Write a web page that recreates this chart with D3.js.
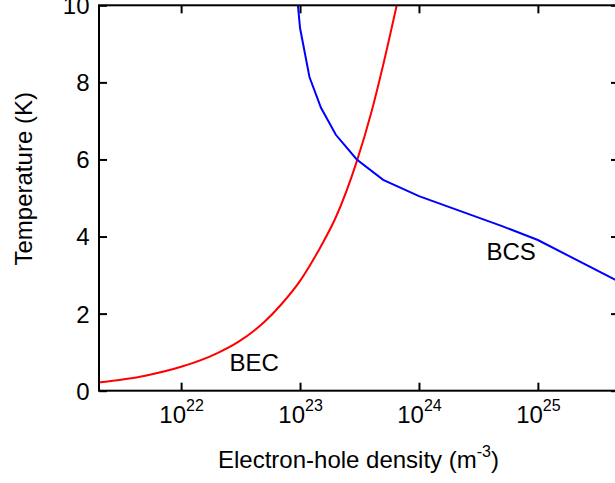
<!DOCTYPE html>
<html>
<head>
<meta charset="utf-8">
<script src="https://cdn.jsdelivr.net/npm/d3@7"></script>
<style>
  html, body { margin: 0; padding: 0; background: #fff; }
  svg { display: block; }
  text { font-family: "Liberation Sans", Arial, sans-serif; fill: #000; }
</style>
</head>
<body>
<svg id="chart" width="615" height="483"></svg>
<script>
// ---- data ----
const becDensity = [2e21, 5e21, 1e22, 2e22, 3e22, 5e22, 7e22, 1e23, 1.22e23, 1.5e23, 2e23, 3e23, 4e23, 5e23, 6.5e23];
const becTemp    = [0.21, 0.39, 0.62, 0.97, 1.26, 1.78, 2.25, 2.85, 3.27, 3.75, 4.5, 5.95, 7.25, 8.45, 10.0];

const bcsDensity = [9.6e22, 1e23, 1.2e23, 1.5e23, 2e23, 3e23, 5e23, 1e24, 5e24, 1e25, 5e25];
const bcsTemp    = [10.0, 9.41, 8.14, 7.34, 6.64, 6.0, 5.47, 5.05, 4.27, 3.91, 2.8];

const xTickExponents = [22, 23, 24, 25];
const yTickValues = [0, 2, 4, 6, 8, 10];
const xDomain = [2e21, 5e25];
const yDomain = [0, 10];

const curveLabels = [
  {text: "BEC", n: 2.55e22, t: 0.52},
  {text: "BCS", n: 3.7e24, t: 3.39}
];

// ---- layout ----
const pLeft = 98, pRight = 621, pTop = 5.3, pBottom = 390.7;
const svg = d3.select("#chart");

const x = d3.scaleLog().domain(xDomain).range([pLeft, pRight]);
const y = d3.scaleLinear().domain(yDomain).range([pBottom, pTop]);

const FS = 24, SUP = 16;

svg.append("defs").append("clipPath").attr("id", "clip")
  .append("rect").attr("x", pLeft).attr("y", pTop).attr("width", pRight - pLeft).attr("height", pBottom - pTop);

// curves
const becData = becDensity.map((n, i) => [n, becTemp[i]]);
const bcsData = bcsDensity.map((n, i) => [n, bcsTemp[i]]);

const g = svg.append("g").attr("clip-path", "url(#clip)");
g.append("path").datum(becData)
  .attr("d", d3.line().x(d => x(d[0])).y(d => y(d[1])).curve(d3.curveMonotoneX))
  .attr("fill", "none").attr("stroke", "#ff0000").attr("stroke-width", 2);
g.append("path").datum(bcsData)
  .attr("d", d3.line().x(d => x(d[0])).y(d => y(d[1])).curve(d3.curveLinear))
  .attr("fill", "none").attr("stroke", "#0000ff").attr("stroke-width", 2);

// axes
const xTicks = xTickExponents.map(e => Math.pow(10, e));
function styleAxis(sel) {
  sel.select(".domain").remove();
  sel.selectAll(".tick line").attr("stroke", "#000").attr("stroke-width", 2);
}
const xb = svg.append("g").attr("transform", `translate(0,${pBottom})`)
  .call(d3.axisBottom(x).tickValues(xTicks).tickSizeInner(-8).tickSizeOuter(0).tickFormat(""));
styleAxis(xb);
xb.selectAll(".tick text").remove();
xb.selectAll(".tick").each(function(d) {
  const e = Math.round(Math.log10(d));
  const t = d3.select(this).append("text")
    .attr("y", 32.5).attr("text-anchor", "middle")
    .style("font-size", FS + "px");
  t.append("tspan").text("10");
  t.append("tspan").attr("dy", -12).style("font-size", SUP + "px").text(e);
});

const xt = svg.append("g").attr("transform", `translate(0,${pTop})`)
  .call(d3.axisTop(x).tickValues(xTicks).tickSizeInner(-8).tickSizeOuter(0).tickFormat(""));
styleAxis(xt);

const yl = svg.append("g").attr("transform", `translate(${pLeft + 1},0)`)
  .call(d3.axisLeft(y).tickValues(yTickValues).tickSizeInner(-8).tickSizeOuter(0).tickPadding(9.5).tickFormat(d3.format("d")));
styleAxis(yl);
yl.selectAll(".tick text").style("font-size", FS + "px").attr("dy", "0.35em");

const yr = svg.append("g").attr("transform", `translate(${pRight - 2},0)`)
  .call(d3.axisRight(y).tickValues(yTickValues).tickSizeInner(-8).tickSizeOuter(0).tickFormat(""));
styleAxis(yr);

// frame
svg.append("rect").attr("x", pLeft + 1).attr("y", pTop).attr("width", pRight - 2 - (pLeft + 1)).attr("height", pBottom - pTop)
  .attr("fill", "none").attr("stroke", "#000").attr("stroke-width", 2);

// curve labels
curveLabels.forEach(l => {
  svg.append("text").attr("x", x(l.n)).attr("y", y(l.t))
    .style("font-size", FS + "px").text(l.text);
});

// axis titles
const xl = svg.append("text").attr("x", 218).attr("y", 467.7).style("font-size", FS + "px");
xl.append("tspan").text("Electron-hole density (m");
xl.append("tspan").attr("dy", -11).style("font-size", SUP + "px").text("-3");
xl.append("tspan").attr("dy", 11).text(")");

svg.append("text")
  .attr("transform", "translate(31.7,265.5) rotate(-90)")
  .style("font-size", FS + "px")
  .text("Temperature (K)");
</script>
</body>
</html>
